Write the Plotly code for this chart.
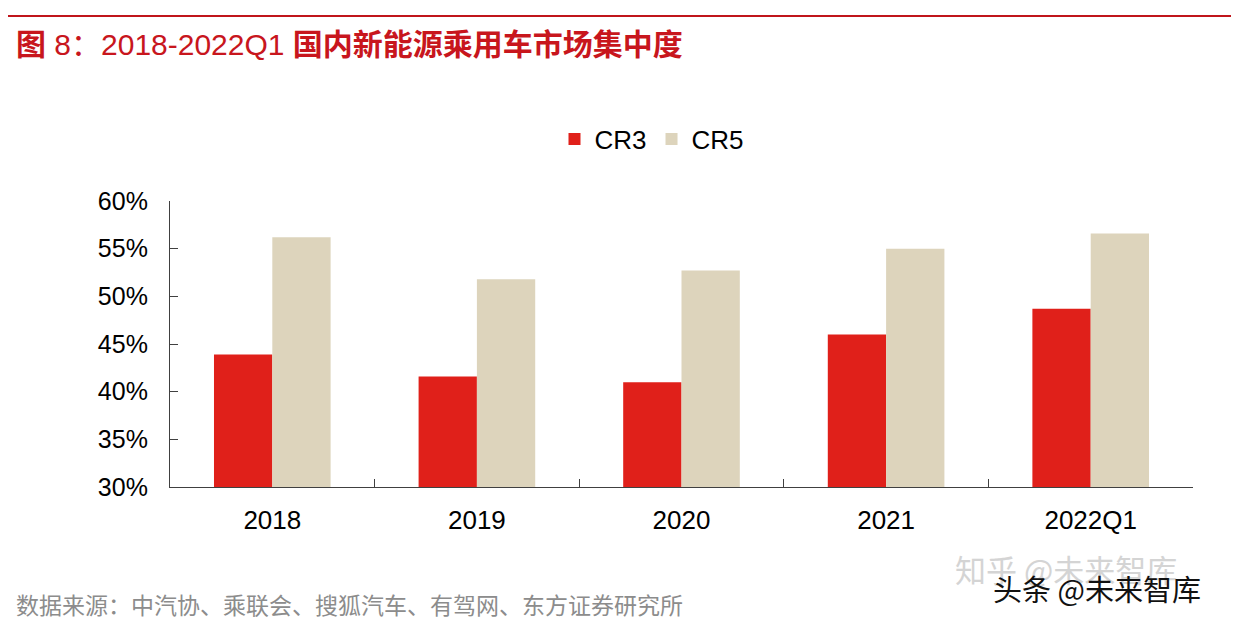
import plotly.graph_objects as go

categories = ["2018", "2019", "2020", "2021", "2022Q1"]
cr3 = [43.9, 41.6, 41.0, 46.0, 48.7]
cr5 = [56.2, 51.8, 52.7, 55.0, 56.6]
series_names = ["CR3", "CR5"]
y_ticks = [30, 35, 40, 45, 50, 55, 60]
y_tick_labels = [f"{v}%" for v in y_ticks]

# page has an 8px body margin: figure is drawn 8px in from the top-left
OFF = 8
W, H = 1239 - OFF, 620 - OFF
L, R, T, B = 170, 1193, 201, 487  # plot area in reference pixels

def px(x):
    return (x - L) / (R - L)

def py(y):
    return (B - y) / (B - T)

FONT = "Liberation Sans, Arial, Noto Sans CJK SC, sans-serif"

fig = go.Figure()
fig.add_trace(go.Bar(x=categories, y=cr3, name=series_names[0], marker_color="#E0201A",
                     marker_line_width=0))
fig.add_trace(go.Bar(x=categories, y=cr5, name=series_names[1], marker_color="#DDD4BC",
                     marker_line_width=0))

fig.update_layout(
    width=W, height=H,
    margin=dict(l=L - OFF, r=1239 - R, t=T - OFF, b=620 - B),
    paper_bgcolor="white", plot_bgcolor="white",
    barmode="group", bargap=0.43, bargroupgap=0,
    font=dict(family=FONT, color="#000000"),
    showlegend=True,
    legend=dict(orientation="h", x=px(652), xanchor="center", y=py(139), yanchor="middle",
                font=dict(size=26, family=FONT), itemsizing="constant",
                traceorder="normal", itemwidth=30),
    xaxis=dict(showline=True, linecolor="#404040", linewidth=1.2, ticks="inside",
               tickson="boundaries", ticklen=8, tickcolor="#404040",
               tickfont=dict(size=26, family=FONT), showgrid=False,
               ticklabelstandoff=10),
    yaxis=dict(range=[30, 60], tickmode="array", tickvals=y_ticks, ticktext=y_tick_labels,
               showline=True, linecolor="#404040", linewidth=1.2, ticks="inside",
               ticklen=8, tickcolor="#404040", tickfont=dict(size=25, family=FONT),
               showgrid=False, zeroline=False, ticklabelstandoff=16),
)

# top rule
fig.add_shape(type="line", xref="paper", yref="paper", x0=px(8), x1=px(1245),
              y0=py(16), y1=py(16), line=dict(color="#C0151B", width=2))

fig.add_annotation(text="<b>图</b> 8：2018-2022Q1 <b>国内新能源乘用车市场集中度</b>",
                   xref="paper", yref="paper", x=px(14), y=py(44), xanchor="left",
                   yanchor="middle", showarrow=False,
                   font=dict(size=30, color="#C8161D", family=FONT))

fig.add_annotation(text="数据来源：中汽协、乘联会、搜狐汽车、有驾网、东方证券研究所",
                   xref="paper", yref="paper", x=px(14), y=py(604), xanchor="left",
                   yanchor="middle", showarrow=False,
                   font=dict(size=23, color="#8C8C8C", family="Noto Sans CJK SC"))

fig.add_annotation(text="知乎 @未来智库", xref="paper", yref="paper", x=px(953), y=py(568),
                   xanchor="left", yanchor="middle", showarrow=False,
                   font=dict(size=31, color="#D4D4D4", family="Noto Sans CJK SC"))
fig.add_annotation(text="头条 @未来智库", xref="paper", yref="paper", x=px(991), y=py(588),
                   xanchor="left", yanchor="middle", showarrow=False,
                   font=dict(size=29, color="#111111", family="Noto Sans CJK SC"),
                   bgcolor="rgba(255,255,255,0)")

fig.write_html("out.html")
